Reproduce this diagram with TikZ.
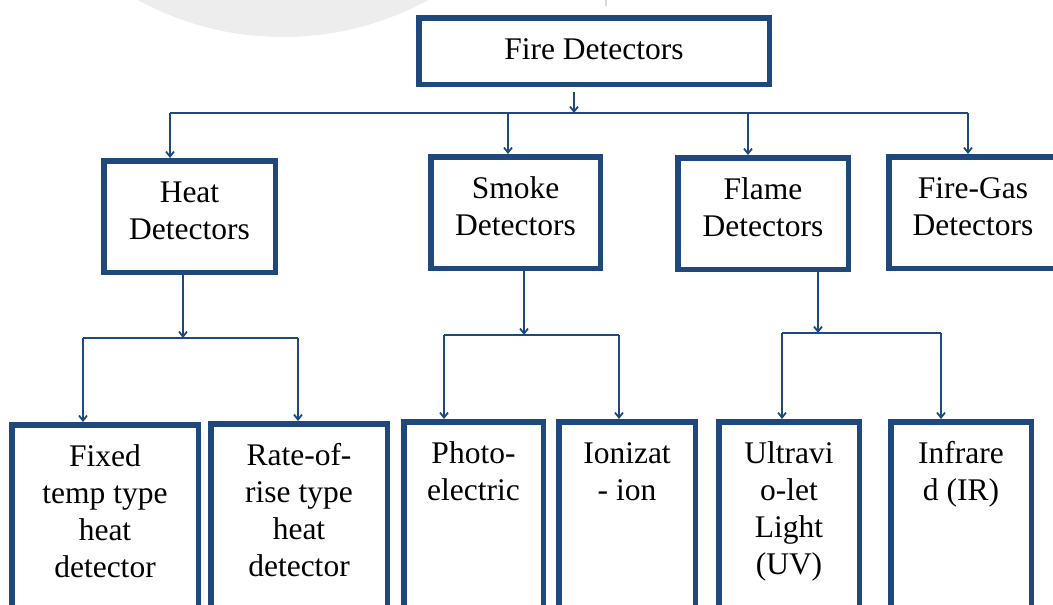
\documentclass[tikz,border=0pt]{standalone}
\usepackage{fontspec}
\setmainfont{Liberation Serif}
\usetikzlibrary{arrows.meta}
\definecolor{detblue}{RGB}{31,73,125}
\definecolor{washgray}{gray}{0.93}

\begin{document}
\begin{tikzpicture}[x=1pt, y=1pt,
  detbox/.style={draw=detblue, line width=5.5pt, fill=white, inner sep=0pt, align=flush center, anchor=north, text height=41.75pt, font=\fontsize{31.5}{37}\selectfont},
  topbox/.style={detbox, text depth=24.75pt},
  midbox/.style={detbox, text depth=70pt},
  leafbox/.style={detbox, text depth=170pt},
  bus/.style={draw=detblue, line width=2.4pt},
  arrow/.style={-{Straight Barb[length=5pt, width=8pt]}, line width=1.8pt, draw=detblue}
]
\useasboundingbox (0,0) rectangle (1053,-605);
\clip (0,0) rectangle (1053,-605);
\fill[washgray] (283,266) circle (303);
\draw[black!15, line width=1.5pt] (606,0) -- (606,-6);

\node[topbox, text width=350.5pt] (fire) at (594,-15) {Fire Detectors};

\node[midbox, text width=171.5pt] (heat) at (189.5,-158) {Heat\\Detectors};
\node[midbox, text width=169.5pt] (smoke) at (515.5,-154) {Smoke\\Detectors};
\node[midbox, text width=170.5pt] (flame) at (763,-155) {Flame\\Detectors};
\node[midbox, text width=168.5pt] (firegas) at (973,-154) {Fire-Gas\\Detectors};

\node[leafbox, text width=186.5pt] (fixed) at (105,-422) {Fixed\\temp type\\heat\\detector};
\node[leafbox, text width=176.5pt] (rate) at (299,-421) {Rate-of-\\rise type\\heat\\detector};
\node[leafbox, text width=139.5pt] (photo) at (473.5,-419) {Photo-\\electric};
\node[leafbox, text width=136.5pt] (ion) at (627,-419) {Ionizat\\- ion};
\node[leafbox, text width=140.5pt] (uv) at (789,-419) {Ultravi\\o-let\\Light\\(UV)};
\node[leafbox, text width=140.5pt] (ir) at (961,-419) {Infrare\\d (IR)};

% main bus
\coordinate (firedrop) at ([xshift=-20pt, yshift=-5pt]fire.south);
\coordinate (b1) at (170,-113);
\coordinate (b2) at (508,-113);
\coordinate (b3) at (748,-113);
\coordinate (b4) at (968,-113);
\draw[bus] (b1) -- (b4);
\draw[arrow] (firedrop) -- (firedrop |- b1);
\foreach \b/\n in {b1/heat, b2/smoke, b3/flame, b4/firegas}
  \draw[arrow] (\b) -- (\b |- \n.north);

% heat
\coordinate (h0) at (183,-338);
\coordinate (hL) at (83,-338);
\coordinate (hR) at (298,-338);
\draw[arrow] (h0 |- heat.south) -- (h0);
\draw[bus] (hL) -- (hR);
\draw[arrow] (hL) -- (hL |- fixed.north);
\draw[arrow] (hR) -- (hR |- rate.north);

% smoke
\coordinate (s0) at (524,-335);
\coordinate (sL) at (444,-335);
\coordinate (sR) at (619,-335);
\draw[arrow] (s0 |- smoke.south) -- (s0);
\draw[bus] (sL) -- (sR);
\draw[arrow] (sL) -- (sL |- photo.north);
\draw[arrow] (sR) -- (sR |- ion.north);

% flame
\coordinate (f0) at (818,-333);
\coordinate (fL) at (782,-333);
\coordinate (fR) at (941,-333);
\draw[arrow] (f0 |- flame.south) -- (f0);
\draw[bus] (fL) -- (fR);
\draw[arrow] (fL) -- (fL |- uv.north);
\draw[arrow] (fR) -- (fR |- ir.north);
\end{tikzpicture}
\end{document}
